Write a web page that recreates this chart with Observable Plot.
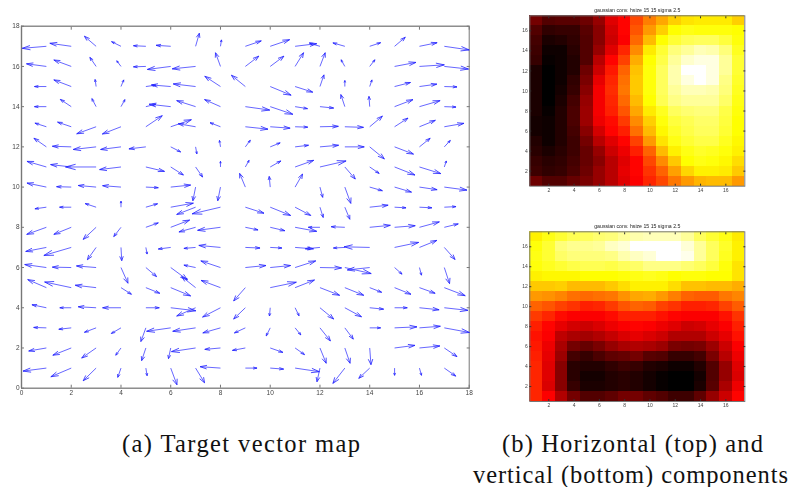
<!DOCTYPE html>
<html>
<head>
<meta charset="utf-8">
<script src="https://cdn.jsdelivr.net/npm/d3@7"></script>
<script src="https://cdn.jsdelivr.net/npm/@observablehq/plot@0.6"></script>
<style>
html,body{margin:0;padding:0;background:#fff;width:790px;height:487px;overflow:hidden}
#page{position:relative;width:790px;height:487px;overflow:hidden}
#page svg{position:absolute;background:transparent;filter:blur(.4px)}
#page svg.heat{filter:blur(.65px)}
.cap{position:absolute;font-family:"Liberation Serif",serif;font-size:24.5px;color:#111;white-space:nowrap;line-height:26px}
</style>
</head>
<body>
<div id="page"></div>
<script>
// Grid of the vector map: rows from y=17 down to y=1, columns x=1..17
const gridX = d3.range(1, 18);
const gridY = d3.range(17, 0, -1);

const u = [
 [-.97,-.86,-.47,-.38,-.50,-.59,.15,.04,.64,.78,.87,-.42,-.48,.44,.43,.71,1.0],
 [-.80,-.70,-.25,-.17,-.50,-.94,-.94,-.20,.54,.55,.34,.21,-.15,.21,.86,1.0,.97],
 [-.48,-.70,-.04,.11,.40,-.78,-.90,-.63,-.56,.84,.71,.16,0,.09,.64,.70,.51],
 [-.48,-.44,-.17,.16,.40,-.87,-.76,-.64,.98,.91,.50,.55,-.16,-.03,.74,.83,.47],
 [-.46,-.55,-.78,-.75,.66,.83,-.70,-.42,.91,.80,.51,.74,.75,.51,.54,.64,.79],
 [-.50,-.76,-.92,-.82,-.68,.40,.05,-.04,.20,.40,.54,.75,.78,.59,.76,.43,.24],
 [-.78,-.83,-1.23,-.86,.75,.51,.28,0,.15,.43,.75,1.05,.42,.38,.82,.86,.08],
 [-.78,-.59,-.72,-.74,.50,.80,-.11,-.11,-.23,-.04,.30,.11,.24,.51,.68,.71,.91],
 [-.46,-.47,-.44,0,.47,.91,-.76,-1.14,.75,.82,.63,.13,.20,.74,.46,.50,.47],
 [-.79,-.70,-.52,-.29,.50,.76,-.67,-.92,.51,.59,.87,-.47,-.55,.83,.83,.80,.56],
 [-.83,-1.10,-.35,.03,.05,-.50,-.47,-.87,.59,.47,.74,-.59,-.46,-1.03,.97,.70,.43],
 [-.87,-.76,-.79,.28,.43,.67,-.47,-.79,.83,.82,.83,.87,1.06,-.90,.30,.08,.21],
 [-.75,-1.07,-.84,.42,.56,.80,-.56,-.78,-.47,1.05,.78,.79,.76,.48,.66,.63,.84],
 [-.58,-.46,-.72,-.74,.54,1.01,-.76,-.72,-.47,-.03,.16,.55,.67,.56,.51,.79,.95],
 [-.51,-.50,-.47,-.39,-.20,-.97,-.92,-.71,-.44,-.16,.23,.42,.34,.44,.90,.84,1.01],
 [-.71,-.74,-.58,-.21,-.17,-.09,-.97,-.63,-.52,.51,.38,.25,.21,.05,.82,.82,.51],
 [-.94,-.82,-.52,-.13,.05,.25,.36,-.82,.47,.54,.98,-.12,-.48,-.44,0,.08,.46]
];
const v = [
 [-.10,.15,.50,.23,.03,.05,.65,.32,.27,.33,.13,.15,.17,.18,.45,.18,-.18],
 [.13,.32,.45,.28,-.02,-.15,-.12,.68,.51,.51,.68,.68,.33,.33,.20,.08,-.13],
 [0,.33,.35,.33,.07,.08,.13,.51,.56,-.43,-.28,.58,.30,.33,.20,.12,-.02],
 [0,.36,.40,.35,.12,.12,.30,.35,-.17,-.38,-.10,-.07,.60,.51,.35,.30,-.02],
 [.18,.23,-.35,-.36,.55,.35,.15,.20,-.12,-.07,-.02,.02,-.03,.53,.43,.32,.17],
 [.43,.03,-.13,-.13,-.10,-.25,-.35,.32,.33,.20,.08,.08,0,-.60,-.36,.43,.32],
 [.28,.12,0,-.13,-.22,-.40,-.50,.28,.33,.30,.33,.30,-.60,-.32,-.40,-.33,.30],
 [.20,.02,.08,.07,-.03,.10,-.68,-.68,.68,.53,.65,-.51,-.81,-.18,-.25,-.13,-.15],
 [-.08,0,.18,.30,.17,.20,-.36,-.33,-.30,-.41,-.41,-.51,-.60,.10,-.03,-.03,.03],
 [-.35,-.35,-.60,-.46,.22,.36,-.23,-.15,-.13,-.17,-.20,0,.03,.10,.08,.27,.17],
 [-.20,-.40,-.61,-.66,-.33,-.08,-.05,.10,-.03,-.03,-.07,-.07,-.03,.03,.25,.35,-.60],
 [.15,.02,.08,-.78,-.45,-.61,.12,.33,.10,.10,.33,-.02,-.30,-.12,-.33,-.38,-.80],
 [.40,.28,.12,-.33,-.28,-.41,.55,.36,-.66,.27,.38,-.38,-.38,-.23,-.33,-.28,-.40],
 [.15,0,.05,0,0,-.15,-.41,-.46,-.56,-.41,-.40,-.56,-.45,-.07,0,-.10,-.13],
 [.02,-.07,-.22,-.28,-.68,-.17,-.17,-.25,-.25,-.40,-.35,-.65,-.56,0,.05,.08,-.23],
 [-.15,-.36,-.50,-.36,-.63,-.53,-.18,-.07,-.12,-.22,-.33,-.76,-.76,-.83,.13,.10,-.43],
 [-.15,-.43,-.63,-.46,-.38,-.83,-.73,.07,0,-.05,-.18,-.68,-.76,-.51,-.36,-.36,-.40]
];

// Heatmaps: colormap position per cell, rows from y=17 down to y=1, columns 1..17
const horizontalRows = [
 [.17,.12,.13,.13,.16,.22,.33,.38,.48,.56,.62,.68,.71,.72,.72,.72,.68],
 [.12,.07,.08,.08,.13,.20,.31,.38,.50,.60,.68,.75,.77,.76,.76,.76,.75],
 [.10,.04,.05,.07,.12,.20,.30,.37,.53,.65,.75,.80,.83,.84,.84,.81,.76],
 [.09,.02,.02,.06,.12,.22,.33,.43,.58,.72,.80,.87,.90,.93,.92,.87,.78],
 [.08,.01,.02,.05,.12,.27,.38,.47,.63,.75,.82,.90,.95,.97,.97,.90,.80],
 [.04,0,.02,.05,.16,.30,.41,.52,.66,.76,.84,.92,1,1,.97,.90,.80],
 [.04,0,.02,.07,.18,.34,.43,.54,.67,.76,.84,.92,.97,1,.97,.88,.79],
 [.04,0,.03,.08,.20,.36,.44,.55,.67,.76,.84,.90,.93,.93,.92,.87,.78],
 [.04,0,.04,.10,.22,.36,.43,.53,.65,.75,.83,.88,.90,.90,.90,.85,.77],
 [.04,.01,.05,.11,.23,.36,.42,.50,.62,.72,.78,.84,.86,.87,.87,.82,.76],
 [.03,.02,.05,.11,.23,.35,.39,.46,.58,.68,.76,.81,.83,.85,.85,.81,.75],
 [.03,.02,.05,.10,.20,.31,.38,.42,.54,.65,.74,.79,.82,.84,.84,.80,.75],
 [.05,.02,.05,.09,.17,.27,.33,.38,.47,.60,.71,.77,.80,.82,.82,.78,.74],
 [.06,.04,.06,.09,.15,.22,.30,.35,.42,.52,.65,.73,.77,.79,.78,.76,.73],
 [.08,.06,.07,.10,.15,.20,.27,.33,.38,.48,.58,.67,.75,.77,.76,.74,.70],
 [.09,.07,.08,.11,.16,.22,.27,.34,.38,.45,.52,.61,.69,.73,.73,.72,.67],
 [.16,.12,.12,.15,.18,.22,.27,.33,.37,.43,.48,.55,.60,.64,.65,.65,.60]
];
const verticalRows = [
 [.73,.77,.80,.83,.84,.86,.87,.90,.92,.93,.93,.93,.90,.84,.80,.77,.72],
 [.76,.80,.87,.89,.89,.90,.94,.96,1,1,1,1,.96,.90,.84,.79,.73],
 [.77,.80,.85,.87,.87,.87,.88,.92,.94,.96,1,1,.98,.90,.84,.78,.73],
 [.76,.78,.80,.82,.83,.83,.82,.84,.85,.88,.88,.88,.86,.84,.81,.76,.71],
 [.73,.74,.74,.74,.75,.75,.75,.76,.77,.78,.77,.75,.76,.76,.75,.75,.71],
 [.67,.67,.68,.65,.65,.65,.67,.70,.73,.73,.73,.70,.66,.66,.65,.65,.63],
 [.60,.59,.57,.54,.53,.54,.55,.59,.62,.63,.60,.56,.52,.51,.51,.55,.57],
 [.52,.50,.47,.45,.42,.43,.46,.50,.52,.51,.47,.45,.42,.42,.43,.47,.51],
 [.46,.43,.39,.37,.37,.37,.39,.42,.42,.42,.40,.38,.37,.37,.37,.40,.45],
 [.42,.38,.34,.31,.30,.32,.35,.37,.38,.37,.35,.33,.30,.31,.34,.37,.42],
 [.40,.37,.28,.25,.24,.26,.29,.32,.34,.32,.30,.26,.26,.26,.30,.34,.40],
 [.41,.35,.25,.17,.15,.18,.22,.25,.26,.25,.23,.18,.17,.18,.23,.30,.37],
 [.42,.34,.23,.10,.08,.11,.14,.15,.17,.13,.12,.08,.08,.10,.18,.27,.35],
 [.43,.33,.20,.06,.05,.05,.07,.09,.08,.05,.04,.02,.02,.05,.12,.22,.33],
 [.43,.33,.20,.06,.03,.03,.05,.06,.05,.03,.01,0,0,.03,.12,.22,.32],
 [.43,.32,.20,.08,.04,.04,.05,.06,.05,.03,.01,0,0,.04,.13,.25,.35],
 [.43,.37,.26,.17,.12,.12,.14,.17,.17,.14,.12,.09,.09,.14,.22,.30,.38]
];

const vectorTicks = d3.range(0, 19, 2);
const heatTicks = d3.range(2, 17, 2);
const heatTitle = "gaussian conv. hsize 15 15 sigma 2.5";
const captionA = "(a) Target vector map";
const captionB1 = "(b) Horizontal (top) and";
const captionB2 = "vertical (bottom) components";

const axisGrey = "#777";
const tickText = "#444";
const sans = "'Liberation Sans',Arial,sans-serif";

// Vectors: shaft plus two barbs, quiver style (barbs proportional to the vector)
const vectors = gridY.flatMap((y, r) => gridX.map((x, c) => ({x, y, u: u[r][c], v: v[r][c]})));
const alpha = .33, beta = .33;
const barb = (d, s) => ({
  x1: d.x + d.u, y1: d.y + d.v,
  x2: d.x + d.u - alpha * (d.u + s * beta * d.v),
  y2: d.y + d.v - alpha * (d.v - s * beta * d.u)
});
const barbs = vectors.flatMap(d => [barb(d, 1), barb(d, -1)]);

const vectorPlot = Plot.plot({
  width: 490, height: 410,
  marginLeft: 21, marginRight: 21.3, marginTop: 25.7, marginBottom: 22.3,
  style: {fontFamily: sans, fontSize: "6.5px", color: tickText, left: "0px", top: "0px"},
  x: {domain: [0, 18], label: null},
  y: {domain: [0, 18], label: null},
  marks: [
    Plot.frame({stroke: axisGrey, strokeWidth: 1}),
    Plot.ruleY([0, 18], {stroke: axisGrey, strokeWidth: .6}),
    Plot.ruleX([0], {stroke: axisGrey, strokeWidth: 1.4}),
    Plot.axisX(vectorTicks, {anchor: "bottom", tickSize: -3, tickPadding: 5, stroke: axisGrey, label: null}),
    Plot.axisX(vectorTicks, {anchor: "top", tickSize: -3, text: null, stroke: axisGrey, label: null}),
    Plot.axisY(vectorTicks, {anchor: "left", tickSize: -3, tickPadding: 5, stroke: axisGrey, label: null}),
    Plot.axisY(vectorTicks, {anchor: "right", tickSize: -3, text: null, stroke: axisGrey, label: null}),
    Plot.link(vectors, {x1: "x", y1: "y", x2: d => d.x + d.u, y2: d => d.y + d.v, stroke: "#4040ff", strokeWidth: .8}),
    Plot.link(barbs, {x1: "x1", y1: "y1", x2: "x2", y2: "y2", stroke: "#2020ff", strokeWidth: .8})
  ]
});

function heatPlot(rows, opts) {
  const cells = gridY.flatMap((y, r) => gridX.map((x, c) => ({x, y, value: rows[r][c]})));
  const chart = Plot.plot({
    width: 260, height: opts.height,
    marginLeft: 29.3, marginRight: 15.7, marginTop: opts.marginTop, marginBottom: opts.marginBottom,
    style: {fontFamily: sans, fontSize: "5px", color: tickText, left: "500px", top: opts.top + "px"},
    x: {domain: [.5, 17.5], label: null},
    y: {domain: [.5, 17.5], label: null},
    color: {type: "linear", domain: [0, .375, .75, 1], range: ["#000000", "#ff0000", "#ffff00", "#ffffff"]},
    marks: [
      Plot.rect(cells, {x1: d => d.x - .5, x2: d => d.x + .5, y1: d => d.y - .5, y2: d => d.y + .5, fill: "value", shapeRendering: "crispEdges"}),
      Plot.frame({stroke: axisGrey, strokeWidth: 1}),
      Plot.axisX(heatTicks, {anchor: "bottom", tickSize: -2, tickPadding: 4, stroke: "#333", label: null}),
      Plot.axisX(heatTicks, {anchor: "top", tickSize: -2, text: null, stroke: "#333", label: null}),
      Plot.axisY(heatTicks, {anchor: "left", tickSize: -2, tickPadding: 4, stroke: "#333", label: null}),
      Plot.axisY(heatTicks, {anchor: "right", tickSize: -2, text: null, stroke: "#333", label: null}),
      Plot.text([heatTitle], {frameAnchor: "top", dy: -4, lineAnchor: "bottom", fontSize: 5.2, fill: "#222"})
    ]
  });
  chart.classList.add("heat");
  return chart;
}

const page = document.getElementById("page");
page.append(vectorPlot);
page.append(heatPlot(horizontalRows, {height: 205, top: 0, marginTop: 15.3, marginBottom: 19.3}));
page.append(heatPlot(verticalRows, {height: 215, top: 205, marginTop: 26.3, marginBottom: 19}));

function caption(text, left, top, width) {
  const s = document.createElement("div");
  s.className = "cap";
  s.textContent = text;
  s.style.left = left + "px";
  s.style.top = top + "px";
  page.append(s);
  const extra = (width - s.getBoundingClientRect().width) / (text.length - 1);
  s.style.letterSpacing = extra + "px";
}
caption(captionA, 122, 431, 238);
caption(captionB1, 502, 431, 261);
caption(captionB2, 473, 462, 315);
</script>
</body>
</html>
